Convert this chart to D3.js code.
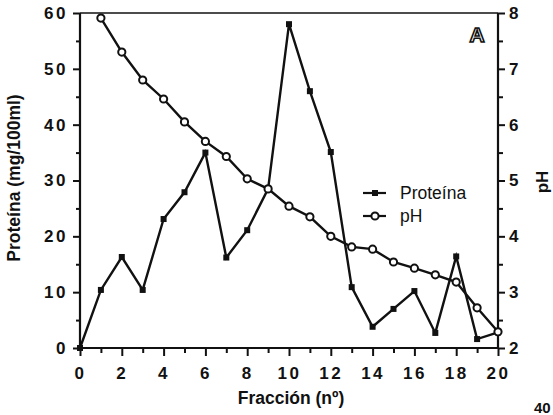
<!DOCTYPE html>
<html>
<head>
<meta charset="utf-8">
<script src="https://cdn.jsdelivr.net/npm/d3@7"></script>
<style>
  body { margin: 0; background: #fff; }
  text { font-family: "Liberation Sans", Arial, sans-serif; font-weight: bold; fill: #111; }
</style>
</head>
<body>
<div id="viz1"></div>
<script>

/* fraction chart, protein and pH */

// data
const fraccion = [0,1,2,3,4,5,6,7,8,9,10,11,12,13,14,15,16,17,18,19,20];
const proteina = [0,10.4,16.3,10.4,23.1,27.9,35.0,16.2,21.1,28.5,58.0,46.0,35.1,10.9,3.8,7.0,10.2,2.7,16.4,1.6,2.8];
const phFraccion = [1,2,3,4,5,6,7,8,9,10,11,12,13,14,15,16,17,18,19,20];
const phValores = [7.91,7.30,6.80,6.46,6.05,5.70,5.43,5.03,4.85,4.54,4.35,4.00,3.81,3.77,3.54,3.43,3.31,3.18,2.72,2.29];

const xTicks = [0,2,4,6,8,10,12,14,16,18,20];
const yTicks = [0,10,20,30,40,50,60];
const phTicks = [2,3,4,5,6,7,8];
const legendItems = ["Proteína", "pH"];

const W = 553, H = 415;
const margin = { top: 13, right: 53, bottom: 67, left: 80 },
  width = 498 - margin.left,
  height = 348 - margin.top;

const svg = d3.select("#viz1")
  .append("svg")
    .attr("width", W)
    .attr("height", H);

const g = svg.append("g")
  .attr("transform", `translate(${margin.left},${margin.top})`);

// scales
const x = d3.scaleLinear([0, 20], [0, width]);
const y = d3.scaleLinear([0, 60], [height, 0]);
const yPh = d3.scaleLinear([2, 8], [height, 0]);

// axis styling helper
function styleAxis(sel){
  sel.select(".domain").remove();
  sel.selectAll("line").attr("stroke", "#111").attr("stroke-width", 2);
  sel.selectAll("text")
    .style("font-size", "17px")
    .style("letter-spacing", "2.5px");
}

// minor ticks
g.append("g")
  .attr("transform", `translate(0,${height})`)
  .call(d3.axisBottom(x).tickValues(d3.range(1, 20, 2)).tickSize(5).tickFormat(""))
  .call(styleAxis);
g.append("g")
  .call(d3.axisLeft(y).tickValues(d3.range(5, 60, 10)).tickSize(4).tickFormat(""))
  .call(styleAxis);
g.append("g")
  .attr("transform", `translate(${width},0)`)
  .call(d3.axisRight(yPh).tickValues(d3.range(2.5, 8, 1)).tickSize(5).tickFormat(""))
  .call(styleAxis);

// major ticks
g.append("g")
  .attr("transform", `translate(0,${height})`)
  .call(d3.axisBottom(x).tickValues(xTicks).tickSize(8).tickPadding(11))
  .call(styleAxis);
g.append("g")
  .call(d3.axisLeft(y).tickValues(yTicks).tickSize(7).tickPadding(5))
  .call(styleAxis);
g.append("g")
  .attr("transform", `translate(${width},0)`)
  .call(d3.axisRight(yPh).tickValues(phTicks).tickSize(7).tickPadding(4).tickFormat(d3.format("d")))
  .call(styleAxis);

// frame lines (left, bottom, right, top)
const frame = [[0,0,0,height],[0,height,width,height],[width,0,width,height],[0,0,width,0]];
g.selectAll(".frame").data(frame).join("line")
  .attr("x1", d => d[0]).attr("y1", d => d[1])
  .attr("x2", d => d[2]).attr("y2", d => d[3])
  .attr("stroke", "#111")
  .attr("stroke-width", d => d[1] === 0 && d[3] === 0 ? 1.5 : 2.2);

// protein series
const protData = fraccion.map((f, i) => [f, proteina[i]]);
g.append("path")
  .datum(protData)
  .attr("fill", "none")
  .attr("stroke", "#111")
  .attr("stroke-width", 2.4)
  .attr("d", d3.line().x(d => x(d[0])).y(d => y(d[1])));
g.selectAll(".sq").data(protData).join("rect")
  .attr("x", d => x(d[0]) - 3)
  .attr("y", d => y(d[1]) - 3)
  .attr("width", 6).attr("height", 6)
  .attr("fill", "#111");

// pH series
const phData = phFraccion.map((f, i) => [f, phValores[i]]);
g.append("path")
  .datum(phData)
  .attr("fill", "none")
  .attr("stroke", "#111")
  .attr("stroke-width", 2.4)
  .attr("d", d3.line().x(d => x(d[0])).y(d => yPh(d[1])));
g.selectAll(".circ").data(phData).join("circle")
  .attr("cx", d => x(d[0]))
  .attr("cy", d => yPh(d[1]))
  .attr("r", 3.6)
  .attr("fill", "#fff")
  .attr("stroke", "#111")
  .attr("stroke-width", 2);

// legend
const lg = svg.append("g").attr("transform", "translate(363,193)");
legendItems.forEach((name, i) => {
  const row = lg.append("g").attr("transform", `translate(0,${i * 23})`);
  row.append("line")
    .attr("x1", 0).attr("x2", 23)
    .attr("stroke", "#111").attr("stroke-width", 2.2);
  if (i === 0){
    row.append("rect").attr("x", 9).attr("y", -3).attr("width", 6).attr("height", 6).attr("fill", "#111");
  } else {
    row.append("circle").attr("cx", 12).attr("r", 3.6)
      .attr("fill", "#fff").attr("stroke", "#111").attr("stroke-width", 2);
  }
  row.append("text")
    .attr("x", 37).attr("y", 6)
    .style("font-size", "17.5px").style("font-weight", "normal")
    .text(name);
});

// axis titles
svg.append("text")
  .attr("x", 291).attr("y", 404)
  .attr("text-anchor", "middle")
  .style("font-size", "17.5px")
  .text("Fracción (nº)");

svg.append("text")
  .attr("transform", "translate(20,178) rotate(-90)")
  .attr("text-anchor", "middle")
  .style("font-size", "17.5px")
  .text("Proteína  (mg/100ml)");

svg.append("text")
  .attr("transform", "translate(548,182) rotate(-90)")
  .attr("text-anchor", "middle")
  .style("font-size", "17px")
  .text("pH");

// panel letter
svg.append("text")
  .attr("x", 477).attr("y", 42)
  .attr("text-anchor", "middle")
  .style("font-size", "21px")
  .style("fill", "#fff")
  .attr("stroke", "#111").attr("stroke-width", 1.6)
  .text("A");

// page number fragment at corner
svg.append("text")
  .attr("x", 534).attr("y", 413)
  .style("font-size", "15px")
  .text("40");

</script>
</body>
</html>
